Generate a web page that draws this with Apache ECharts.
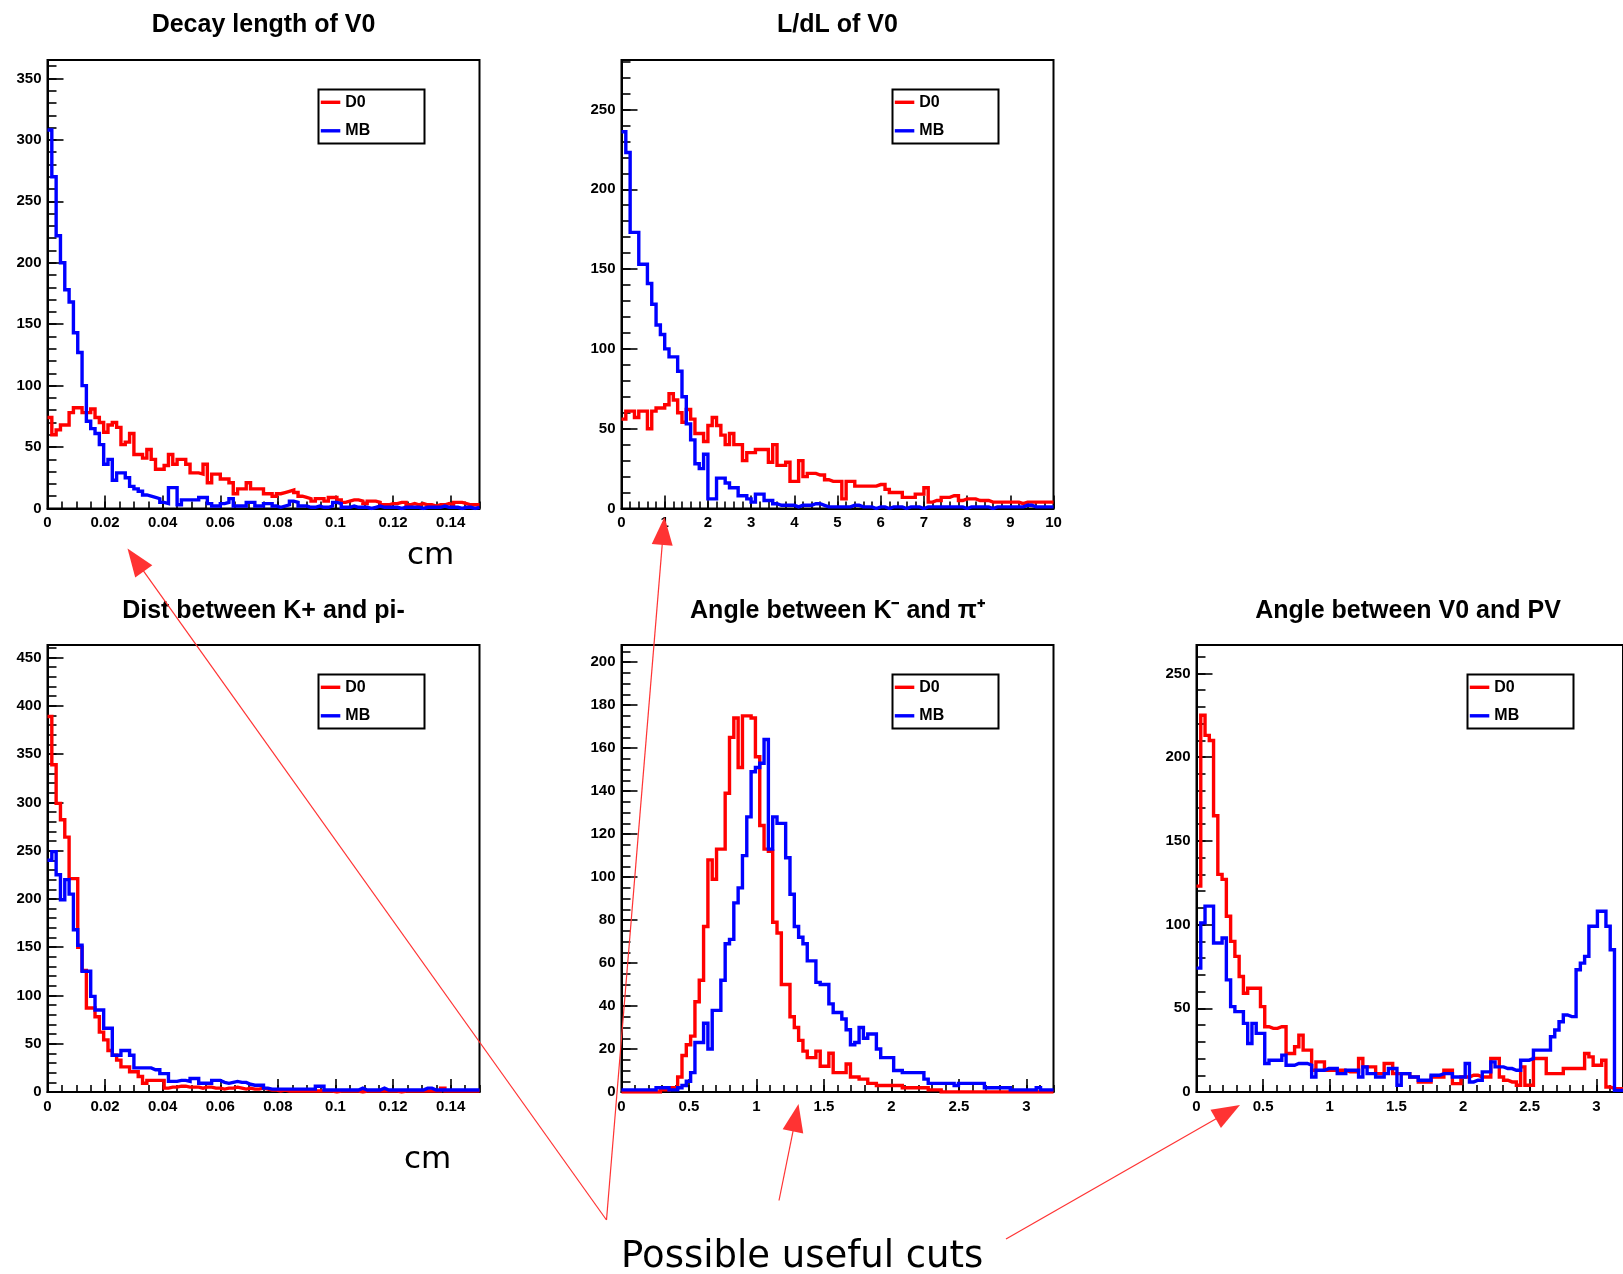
<!DOCTYPE html>
<html>
<head>
<meta charset="utf-8">
<title>V0 selection variables: D0 vs MB</title>
<script src="https://cdn.jsdelivr.net/npm/echarts@6/dist/echarts.min.js"></script>
<style>
  html, body { margin: 0; padding: 0; background: #fff; }
  #chart { width: 1623px; height: 1274px; }
</style>
</head>
<body>
<div id="chart"></div>
<script>
// ---- Histogram contents (100 bins each) ----
// Decay length of V0 [cm], 0 .. 0.15
const decayD0 = [74,60,64,68,68,78,82,82,78,78, 81,74,70,62,68,70,66,52,54,61, 44,44,41,48,40,32,32,35,44,36, 40,40,36,29,29,28,36,21,28,28, 24,24,21,12,16,16,21,16,16,16, 12,12,10,12,13,14,15,13,10,9, 8,6,8,8,6,9,9,7,5,6, 7,7,6,4,6,6,5,3,3,4, 4,5,5,3,4,3,4,3,3,2, 3,3,4,3,5,5,4,3,3,3];
const decayMB = [308,270,222,200,178,168,143,127,100,71, 65,61,52,36,40,23,29,29,25,18, 16,14,11,10,9,8,5,4,17,17, 3,7,7,7,7,9,9,4,2,2, 4,5,8,2,2,2,5,5,2,2, 4,4,2,1,2,3,6,5,2,2, 1,1,2,1,1,2,5,4,1,1, 2,1,1,1,0,1,2,1,1,1, 1,0,1,1,1,1,0,1,1,1, 1,2,1,1,1,0,1,1,0,1];

// L/dL of V0, 0 .. 10
const ldlD0 = [56,61,61,57,61,61,50,61,63,63, 65,72,68,60,54,62,56,47,47,42, 52,57,52,46,40,47,40,40,30,35, 35,37,37,37,29,40,27,27,29,17, 17,30,20,22,22,21,21,18,17,17, 17,6,17,17,14,14,14,14,14,15, 15,12,10,10,10,7,7,7,9,9, 13,4,5,5,7,7,8,8,5,6, 6,6,5,5,5,4,4,4,4,4, 4,4,3,4,4,4,4,4,4,4];
const ldlMB = [236,223,173,173,153,153,141,128,115,109, 100,95,95,86,70,53,43,28,25,34, 6,6,19,19,16,13,13,8,8,6, 4,9,9,5,5,3,2,2,2,2, 1,2,2,2,3,3,2,1,1,1, 1,1,1,2,2,1,1,1,0,1, 1,0,1,1,1,0,1,1,1,0, 1,1,1,1,1,1,1,1,1,0, 1,1,1,1,1,0,1,1,1,1, 1,1,1,2,2,1,1,1,1,1];

// Distance between K+ and pi- [cm], 0 .. 0.15
const distD0 = [389,339,299,282,264,221,221,150,126,87, 87,78,62,54,43,38,33,26,26,21, 21,16,9,12,12,12,12,4,5,5, 6,6,5,5,5,4,5,5,4,4, 3,4,4,5,4,3,4,3,3,4, 3,2,2,1,2,1,1,1,1,1, 1,1,1,1,1,1,0,1,1,1, 1,1,0,1,1,1,1,1,1,1, 1,0,1,1,1,1,1,1,1,1, 1,4,1,1,1,1,1,1,1,1];
const distMB = [240,249,225,199,220,205,168,152,125,125, 99,85,85,66,66,38,38,43,43,38, 25,25,25,25,23,23,19,19,11,11, 12,12,11,14,14,9,9,9,12,12, 10,9,10,11,10,10,8,7,7,7, 4,3,3,3,3,3,3,3,3,3, 3,3,6,6,2,2,2,2,2,2, 2,2,4,2,2,2,2,4,2,2, 2,2,2,2,2,2,2,4,4,2, 2,2,2,2,2,2,2,2,2,2];

// Angle between K- and pi+ [rad], 0 .. 3.2
const angKpiD0 = [0,0,0,0,0,0,0,0,0,1, 1,2,2,7,17,22,26,42,52,77, 108,99,113,113,139,165,174,151,175,175, 174,156,124,113,112,79,74,50,50,35, 30,24,19,16,16,19,12,12,18,9, 9,9,13,7,7,6,6,4,4,3, 3,3,3,3,3,2,2,2,2,2, 2,1,1,1,0,0,0,0,0,0, 0,0,0,0,0,0,0,0,0,0, 0,0,0,0,0,0,0,0,0,0];
const angKpiMB = [1,1,1,1,1,1,1,1,2,2, 2,1,1,2,3,5,9,23,23,32, 20,38,38,52,69,71,88,95,110,128, 149,151,153,164,113,128,125,125,109,92, 77,72,69,61,61,51,50,50,41,37, 37,34,29,22,23,30,25,27,27,20, 16,16,16,10,10,9,9,9,9,9, 6,4,4,4,4,4,4,3,4,4, 4,4,4,4,2,2,2,2,2,2, 1,1,1,1,1,1,2,1,1,1];

// Angle between V0 and PV [rad], 0 .. 3.2
const angPvD0 = [123,225,213,210,165,130,127,105,90,81, 69,59,62,62,62,51,39,38,38,39, 39,23,23,27,34,25,25,13,18,18, 13,13,13,13,13,12,12,12,20,15, 15,15,11,11,17,17,11,11,11,11, 9,9,6,6,6,9,9,9,13,13, 5,5,9,9,10,10,9,9,9,20, 20,9,7,6,6,4,15,4,4,20, 20,20,11,11,11,11,14,14,14,14, 14,23,21,16,16,19,3,2,2,2];
const angPvMB = [74,101,111,111,89,89,92,67,51,48, 48,41,29,41,35,35,17,19,19,19, 22,16,16,17,17,17,16,9,13,13, 14,14,14,11,11,13,13,13,9,15, 11,11,9,9,11,14,14,4,11,11, 9,9,7,7,7,10,10,11,11,11, 9,9,9,17,6,7,7,12,12,18, 15,15,14,14,13,13,19,19,20,25, 25,25,25,33,37,42,46,45,45,73, 77,81,99,99,108,108,99,85,1,1];

const seriesNames = ['D0', 'MB'];

// ---- Panel layout and axis ranges ----
const panels = [
  { title: 'Decay length of V0', d0: decayD0, mb: decayMB,
    box: { left: 47.5, top: 60, width: 432, height: 448.5 },
    x: { min: 0, max: 0.15, major: 0.02, minor: 0.005, showMax: false },
    y: { max: 365, major: 50, minor: 10 } },
  { title: 'L/dL of V0', d0: ldlD0, mb: ldlMB,
    box: { left: 621.5, top: 60, width: 432, height: 448.5 },
    x: { min: 0, max: 10, major: 1, minor: 0.2, showMax: true },
    y: { max: 281, major: 50, minor: 10 } },
  { title: 'Dist between K+ and pi-', d0: distD0, mb: distMB,
    box: { left: 47.5, top: 645, width: 432, height: 447 },
    x: { min: 0, max: 0.15, major: 0.02, minor: 0.005, showMax: false },
    y: { max: 463, major: 50, minor: 10 } },
  { title: 'Angle between K\u207B and \u03C0\u207A', d0: angKpiD0, mb: angKpiMB,
    box: { left: 621.5, top: 645, width: 432, height: 447 },
    x: { min: 0, max: 3.2, major: 0.5, minor: 0.1, showMax: false },
    y: { max: 208, major: 20, minor: 5 } },
  { title: 'Angle between V0 and PV', d0: angPvD0, mb: angPvMB,
    box: { left: 1196.5, top: 645, width: 432, height: 447 },
    x: { min: 0, max: 3.2, major: 0.5, minor: 0.1, showMax: false },
    y: { max: 267, major: 50, minor: 10 } }
];

const RED = '#ff0000';
const BLUE = '#0000ff';
const LABEL_FONT = 'Liberation Sans';

// bin edges -> step polyline points (left edge of each bin, plus closing right edge)
function histPoints(values, min, max) {
  const w = (max - min) / values.length;
  const pts = values.map((v, k) => [min + k * w, v]);
  pts.push([max, values[values.length - 1]]);
  return pts;
}

const grid = [], xAxis = [], yAxis = [], series = [], legend = [], graphic = [];

panels.forEach((p, i) => {
  grid.push({
    left: p.box.left, top: p.box.top, width: p.box.width, height: p.box.height,
    show: true, borderColor: '#000', borderWidth: 2, backgroundColor: 'rgba(0,0,0,0)'
  });

  const labelStyle = { color: '#000', fontSize: 15, fontWeight: 'bold', fontFamily: LABEL_FONT };

  // major x axis: labels + long ticks
  xAxis.push({
    type: 'value', gridIndex: i, position: 'bottom',
    min: p.x.min, max: p.x.max, interval: p.x.major,
    axisLine: { show: true, onZero: false, lineStyle: { color: '#000', width: 2 } },
    axisTick: { show: true, inside: true, length: 13, lineStyle: { color: '#000', width: 1.6 } },
    axisLabel: Object.assign({ show: true, margin: 7, showMaxLabel: p.x.showMax, showMinLabel: true }, labelStyle),
    splitLine: { show: false }
  });
  // minor x axis: short ticks only
  xAxis.push({
    type: 'value', gridIndex: i, position: 'bottom',
    min: p.x.min, max: p.x.max, interval: p.x.minor,
    axisLine: { show: false, onZero: false },
    axisTick: { show: true, inside: true, length: 7, lineStyle: { color: '#000', width: 1.6 } },
    axisLabel: { show: false }, splitLine: { show: false }
  });
  // major y axis
  yAxis.push({
    type: 'value', gridIndex: i, position: 'left',
    min: 0, max: p.y.max, interval: p.y.major,
    axisLine: { show: true, onZero: false, lineStyle: { color: '#000', width: 2 } },
    axisTick: { show: true, inside: true, length: 16, lineStyle: { color: '#000', width: 1.6 } },
    axisLabel: Object.assign({ show: true, margin: 6, showMaxLabel: false, showMinLabel: true }, labelStyle),
    splitLine: { show: false }
  });
  // minor y axis
  yAxis.push({
    type: 'value', gridIndex: i, position: 'left',
    min: 0, max: p.y.max, interval: p.y.minor,
    axisLine: { show: false, onZero: false },
    axisTick: { show: true, inside: true, length: 9, lineStyle: { color: '#000', width: 1.6 } },
    axisLabel: { show: false }, splitLine: { show: false }
  });

  [[p.d0, RED, seriesNames[0]], [p.mb, BLUE, seriesNames[1]]].forEach(([vals, color, name]) => {
    series.push({
      type: 'line', name: name,
      xAxisIndex: 2 * i, yAxisIndex: 2 * i,
      data: histPoints(vals, p.x.min, p.x.max),
      step: 'end', symbol: 'none', showSymbol: false, silent: true, clip: true,
      lineStyle: { color: color, width: 3.4, join: 'miter', cap: 'butt' },
      itemStyle: { color: color },
      emphasis: { disabled: true }
    });
  });

  // legend box in the upper right of each frame
  const lx = p.box.left + 271, ly = p.box.top + 29.5;
  graphic.push({
    type: 'rect', z: 50,
    shape: { x: lx, y: ly, width: 106, height: 54 },
    style: { fill: '#fff', stroke: '#000', lineWidth: 2 }
  });
  legend.push({
    orient: 'vertical', left: lx + 2.3, top: ly + 2.8, padding: 0,
    itemGap: 8.5, itemWidth: 19.5, itemHeight: 3.4, icon: 'rect',
    selectedMode: false, z: 60,
    data: seriesNames.slice(),
    textStyle: { color: '#000', fontSize: 16, fontWeight: 'bold', fontFamily: LABEL_FONT, lineHeight: 20 }
  });

  // histogram title, centred over the frame
  graphic.push({
    type: 'text', z: 50,
    x: p.box.left + p.box.width / 2 - (i === 4 ? 4.5 : 0),
    y: p.box.top - (i < 2 ? 35 : 34),
    style: {
      text: p.title, fill: '#000',
      font: 'bold 25px "Liberation Sans"',
      textAlign: 'center', align: 'center',
      textVerticalAlign: 'middle', verticalAlign: 'middle'
    }
  });
});

// ---- Annotations ----
const NOTE_RED = '#ff3333';
function arrow(fromX, fromY, tipX, tipY) {
  const dx = tipX - fromX, dy = tipY - fromY;
  const len = Math.hypot(dx, dy);
  const ux = dx / len, uy = dy / len;
  const headLen = 28, halfW = 10.5;
  const bx = tipX - ux * headLen, by = tipY - uy * headLen;
  graphic.push({
    type: 'line', z: 100,
    shape: { x1: fromX, y1: fromY, x2: bx + ux * 4, y2: by + uy * 4 },
    style: { stroke: NOTE_RED, lineWidth: 1.2 }
  });
  graphic.push({
    type: 'polygon', z: 100,
    shape: { points: [[tipX, tipY], [bx - uy * halfW, by + ux * halfW], [bx + uy * halfW, by - ux * halfW]] },
    style: { fill: NOTE_RED }
  });
}
const apex = [606.5, 1220];
arrow(apex[0], apex[1], 127.5, 548.5);
arrow(apex[0], apex[1], 664.5, 517);
arrow(779, 1200.5, 798.5, 1104);
arrow(1006, 1239, 1240, 1105);

function note(text, x, y, size) {
  graphic.push({
    type: 'text', z: 100, x: x, y: y,
    style: {
      text: text, fill: '#000',
      font: size + 'px "DejaVu Sans"',
      textAlign: 'left', align: 'left',
      textVerticalAlign: 'middle', verticalAlign: 'middle'
    }
  });
}
note('cm', 407, 556, 31);
note('cm', 404, 1160, 31);
note('Possible useful cuts', 621, 1257.5, 37);

const chart = echarts.init(document.getElementById('chart'), null, { renderer: 'canvas', width: 1623, height: 1274 });
chart.setOption({
  backgroundColor: '#fff',
  animation: false,
  grid: grid,
  xAxis: xAxis,
  yAxis: yAxis,
  legend: legend,
  series: series,
  graphic: graphic
});
</script>
</body>
</html>
